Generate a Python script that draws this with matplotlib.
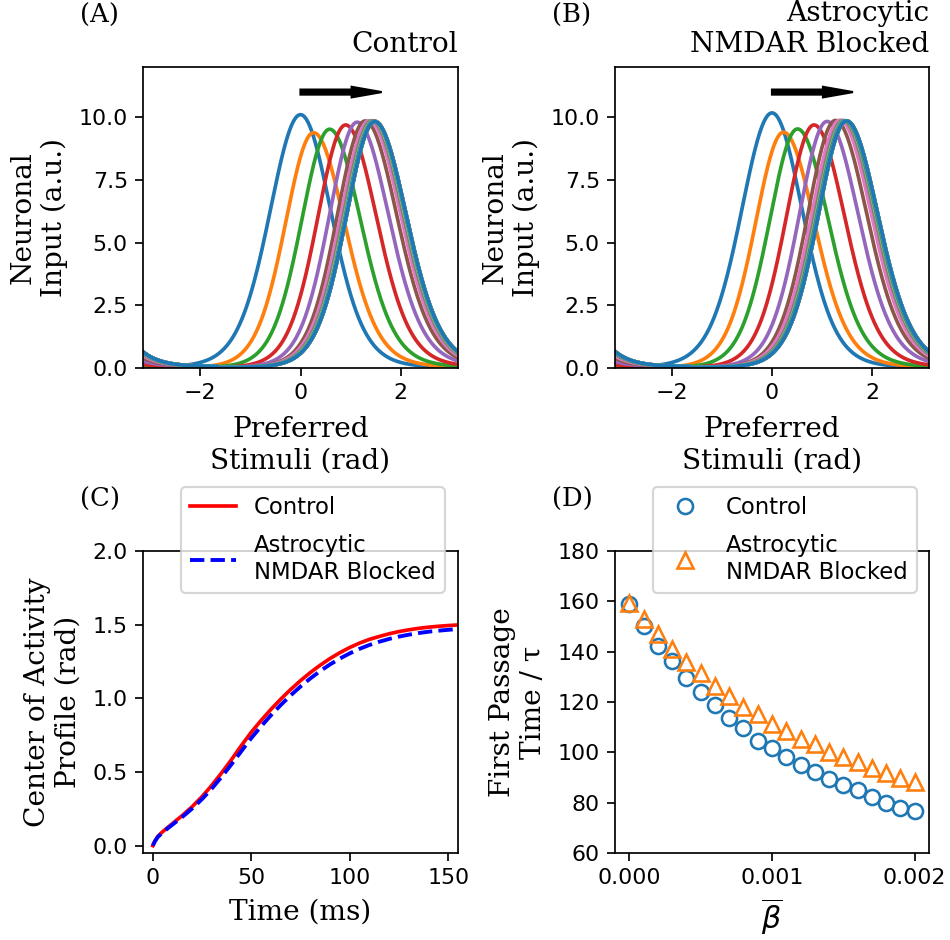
import numpy as np
import matplotlib
matplotlib.use("Agg")
import matplotlib.pyplot as plt

# ---- panel A / B: bump snapshots (centre, peak height, left/right sharpness)
CTRL_CENTERS = [0.00, 0.26, 0.58, 0.90, 1.13, 1.29, 1.37, 1.42, 1.45, 1.46, 1.47,
                1.48, 1.48, 1.48, 1.48, 1.48, 1.48, 1.48, 1.48, 1.48, 1.48]
CTRL_PEAKS = [10.10, 9.38, 9.52, 9.69, 9.80, 9.85, 9.86, 9.86, 9.85, 9.85, 9.84,
              9.84, 9.83, 9.83, 9.83, 9.82, 9.82, 9.82, 9.82, 9.82, 9.82]
BLK_CENTERS = [0.00, 0.23, 0.51, 0.84, 1.10, 1.27, 1.36, 1.42, 1.45, 1.46, 1.47,
               1.48, 1.48, 1.49, 1.49, 1.49, 1.49, 1.49, 1.49, 1.49, 1.49]
BLK_PEAKS = [10.17, 9.40, 9.53, 9.69, 9.83, 9.87, 9.88, 9.87, 9.86, 9.86, 9.85,
             9.85, 9.85, 9.85, 9.85, 9.85, 9.85, 9.85, 9.85, 9.85, 9.85]
KAPPA_LEFT = [2.7, 3.2, 3.2, 3.2, 3.2, 3.2, 3.1, 3.1, 3.1, 3.1, 3.1,
              3.1, 3.1, 3.1, 3.1, 3.1, 3.1, 3.1, 3.1, 3.1, 3.1]
KAPPA_RIGHT = [2.7, 2.6, 2.6, 2.6, 2.5, 2.5, 2.5, 2.5, 2.5, 2.5, 2.5,
               2.5, 2.5, 2.5, 2.5, 2.5, 2.5, 2.5, 2.5, 2.5, 2.5]

# ---- panel C: centre of activity vs time
T_MS = [0, 1, 2.5, 5, 10, 15, 20, 25, 30, 35, 40, 45, 50, 55, 60, 65, 70, 75,
        80, 85, 90, 95, 100, 105, 110, 115, 120, 125, 130, 135, 140, 145, 150, 155]
CENTER_CTRL = [0.0, 0.03, 0.062, 0.095, 0.15, 0.205, 0.265, 0.333, 0.41, 0.495,
               0.585, 0.68, 0.77, 0.85, 0.925, 0.995, 1.06, 1.12, 1.175, 1.225,
               1.27, 1.31, 1.345, 1.375, 1.40, 1.42, 1.438, 1.453, 1.465, 1.475,
               1.483, 1.489, 1.494, 1.498]
CENTER_BLK = [0.0, 0.028, 0.058, 0.09, 0.143, 0.195, 0.252, 0.316, 0.388, 0.468,
              0.553, 0.642, 0.73, 0.81, 0.885, 0.955, 1.02, 1.08, 1.135, 1.185,
              1.23, 1.27, 1.305, 1.336, 1.362, 1.384, 1.403, 1.419, 1.432, 1.443,
              1.452, 1.459, 1.465, 1.47]

# ---- panel D: first passage time vs beta
BETA = [0.0000, 0.0001, 0.0002, 0.0003, 0.0004, 0.0005, 0.0006, 0.0007, 0.0008,
        0.0009, 0.0010, 0.0011, 0.0012, 0.0013, 0.0014, 0.0015, 0.0016, 0.0017,
        0.0018, 0.0019, 0.0020]
FPT_CTRL = [159.0, 150.1, 142.3, 136.3, 129.4, 124.1, 118.7, 113.5, 109.6, 104.7,
            101.6, 98.2, 94.9, 92.2, 89.3, 87.1, 85.1, 82.1, 79.8, 77.7, 76.7]
FPT_BLK = [159.2, 152.8, 146.9, 141.0, 135.7, 131.7, 126.5, 122.5, 117.9, 115.2,
           111.2, 108.5, 105.4, 103.3, 100.3, 98.1, 96.0, 93.8, 91.7, 89.7, 88.4]

DPI = 155
SERIF = "DejaVu Serif"
LABEL_FS = 13
LEGEND_FS = 10.6

plt.rcParams["font.size"] = 10
plt.rcParams["xtick.labelsize"] = 10.3
plt.rcParams["ytick.labelsize"] = 10.3


def bump(x, c, h, kl, kr):
    d = (x - c + np.pi) % (2 * np.pi) - np.pi
    k = np.where(d < 0, kl, kr)
    return h * np.exp(k * (np.cos(d) - 1.0))


def px_axes(fig, left, top, right, bottom):
    W, H = 950, 940
    return fig.add_axes([left / W, 1 - bottom / H, (right - left) / W, (bottom - top) / H])


def bump_panel(ax, centers, peaks, title, letter):
    x = np.linspace(-np.pi, np.pi, 600)
    for c, h, kl, kr in zip(centers, peaks, KAPPA_LEFT, KAPPA_RIGHT):
        ax.plot(x, bump(x, c, h, kl, kr), lw=1.7)
    ax.arrow(0.0, 11.0, 1.62, 0.0, width=0.2, head_width=0.42, head_length=0.6,
             length_includes_head=True, color="black")
    ax.set_xlim(-np.pi, np.pi)
    ax.set_ylim(0, 12)
    ax.set_xticks([-2, 0, 2])
    ax.set_yticks([0.0, 2.5, 5.0, 7.5, 10.0])
    ax.set_xlabel("Preferred\nStimuli (rad)", family=SERIF, fontsize=LABEL_FS, labelpad=6)
    ax.set_ylabel("Neuronal\nInput (a.u.)", family=SERIF, fontsize=LABEL_FS, labelpad=5)
    ax.set_title(title, loc="right", family=SERIF, fontsize=LABEL_FS, pad=7)
    ax.text(-0.2, 1.147, letter, transform=ax.transAxes, family=SERIF, fontsize=12)


fig = plt.figure(figsize=(950 / DPI, 940 / DPI), dpi=DPI)

axA = px_axes(fig, 143, 67, 458, 368)
axB = px_axes(fig, 615, 67, 929, 368)
axC = px_axes(fig, 143, 551, 458, 853)
axD = px_axes(fig, 615, 551, 929, 853)

bump_panel(axA, CTRL_CENTERS, CTRL_PEAKS, "Control", "(A)")
bump_panel(axB, BLK_CENTERS, BLK_PEAKS, "Astrocytic\nNMDAR Blocked", "(B)")

# (C)
axC.plot(T_MS, CENTER_CTRL, color="red", lw=1.7, label="Control")
axC.plot(T_MS, CENTER_BLK, color="blue", lw=1.8, ls="--", label="Astrocytic\nNMDAR Blocked")
axC.set_xlim(-5, 155)
axC.set_ylim(-0.05, 2.0)
axC.set_xticks([0, 50, 100, 150])
axC.set_yticks([0.0, 0.5, 1.0, 1.5, 2.0])
axC.set_xlabel("Time (ms)", family=SERIF, fontsize=LABEL_FS, labelpad=5)
axC.set_ylabel("Center of Activity\nProfile (rad)", family=SERIF, fontsize=LABEL_FS, labelpad=5)
axC.text(-0.2, 1.145, "(C)", transform=axC.transAxes, family=SERIF, fontsize=12)
axC.legend(loc="upper right", bbox_to_anchor=(445 / 950, 1 - 487 / 940),
           bbox_transform=fig.transFigure, borderaxespad=0, fontsize=LEGEND_FS,
           labelspacing=0.65)

# (D)
axD.plot(BETA, FPT_CTRL, "o", ls="none", ms=7, mew=1.2, mfc="none", mec="tab:blue",
         label="Control")
axD.plot(BETA, FPT_BLK, "^", ls="none", ms=7, mew=1.2, mfc="none", mec="tab:orange",
         label="Astrocytic\nNMDAR Blocked")
axD.set_ylim(60, 180)
axD.set_xticks([0.0, 0.001, 0.002])
axD.set_xticklabels(["0.000", "0.001", "0.002"])
axD.set_yticks([60, 80, 100, 120, 140, 160, 180])
axD.set_xlabel(r"$\overline{\beta}$", fontsize=14, labelpad=4)
axD.set_ylabel("First Passage\nTime / \u03c4", family=SERIF, fontsize=LABEL_FS, labelpad=5)
axD.text(-0.2, 1.145, "(D)", transform=axD.transAxes, family=SERIF, fontsize=12)
axD.legend(loc="upper right", bbox_to_anchor=(916.7 / 950, 1 - 487 / 940),
           bbox_transform=fig.transFigure, borderaxespad=0, fontsize=LEGEND_FS,
           labelspacing=0.65)

fig.savefig("out.png", dpi=DPI)
